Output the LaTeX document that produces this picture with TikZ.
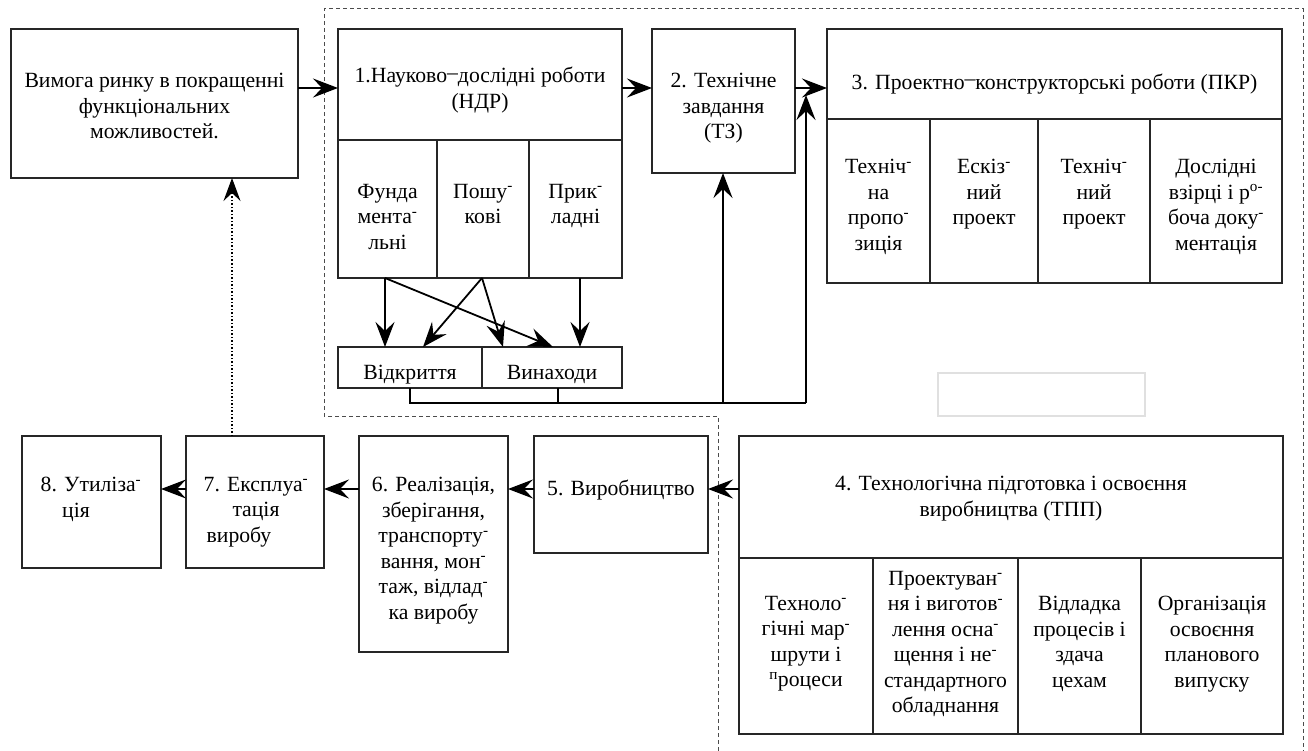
\documentclass[tikz,border=0pt]{standalone}
\usepackage{fontspec}
\setmainfont{Liberation Serif}
\usetikzlibrary{arrows.meta,calc}
\newcommand\tf{\fontsize{21.7}{25.5}\selectfont}
\newcommand\hd{\raisebox{0.17em}{–}}
\newcommand\hs{\textsuperscript{-}}
\newcommand\mkbox[6][]{\node[box,#1,anchor=north west,minimum width={#5pt-#3pt},minimum height={#6pt-#4pt}] (#2) at (#3,#4) {};}
\begin{document}
\begin{tikzpicture}[x=1pt,y=-1pt,
  box/.style={draw=black!85,line width=1.4pt,inner sep=0pt,outer sep=0pt},
  txt/.style={font=\tf,align=center,inner sep=0pt,anchor=north,execute at begin node=\strut},
  conn/.style={line width=1.8pt,black},
  arr/.style={conn,-{Stealth[length=25pt,width=19pt,inset=9pt]}},
  dotarr/.style={line width=1.3pt,dash pattern=on 1.5pt off 2pt,-{Stealth[length=23pt,width=17pt,inset=8pt]}},
  dashline/.style={line width=1pt,black!70,dash pattern=on 4pt off 3pt}]
\useasboundingbox (0,0) rectangle (1308,751);
% dashed region
\draw[dashline] (718,751) -- (718,416) -- (324,416) -- (324,9) -- (1303,9) -- (1303,751);
% boxes
\mkbox{A}{11}{29}{298}{178}
\mkbox{ndrh}{338}{29}{622}{140}
\mkbox{fund}{338}{140}{437}{278}
\mkbox{posh}{437}{140}{529}{278}
\mkbox{prik}{529}{140}{622}{278}
\mkbox{tz}{652}{29}{795}{173}
\mkbox{pkrh}{827}{29}{1282}{119}
\mkbox{pa}{827}{119}{930}{283}
\mkbox{pb}{930}{119}{1038}{283}
\mkbox{pc}{1038}{119}{1150}{283}
\mkbox{pd}{1150}{119}{1282}{283}
\mkbox{vid}{338}{347}{482}{388}
\mkbox{vyn}{482}{347}{622}{388}
\mkbox[draw=black!12]{blank}{938}{373}{1145}{416}
\mkbox{b8}{22}{436}{161}{568}
\mkbox{b7}{186}{436}{324}{568}
\mkbox{b6}{359}{436}{508}{652}
\mkbox{b5}{534}{436}{708}{553}
\mkbox{tpph}{739}{436}{1283}{558}
\mkbox{ta}{739}{558}{873}{734}
\mkbox{tb}{873}{558}{1018}{734}
\mkbox{tc}{1018}{558}{1141}{734}
\mkbox{td}{1141}{558}{1283}{734}
% texts
\node[txt] (tA) at (154.5,73) {Вимога ринку в покращенні\\функціональних\\можливостей.};
\node[txt] (tndr) at (480,67) {1.Науково\hd дослідні роботи\\(НДР)};
\node[txt] (tfund) at (387.5,184) {Фунда\\мента\hs\\льні};
\node[txt] (tposh) at (483,184) {Пошу\hs\\кові};
\node[txt] (tprik) at (575.5,184) {Прик\hs\\ладні};
\node[txt] (ttz) at (723.5,73) {2. Технічне\\завдання\\(ТЗ)};
\node[txt] (tpkr) at (1054.5,71) {3. Проектно\hd конструкторські роботи (ПКР)};
\node[txt] (tpa) at (878.5,159) {Техніч\hs\\на\\пропо\hs\\зиція};
\node[txt] (tpb) at (984,159) {Ескіз\hs\\ний\\проект};
\node[txt] (tpc) at (1094,159) {Техніч\hs\\ний\\проект};
\node[txt] (tpd) at (1216,159) {Дослідні\\взірці і р\textsuperscript{о-}\\боча доку\hs\\ментація};
\node[txt] (tvid) at (410,361) {Відкриття};
\node[txt] (tvyn) at (552,361) {Винаходи};
\node[txt] (tb8) at (91,477) {8. Утиліза\hs\\\mbox{ція\hspace{30pt}}};
\node[txt] (tb7) at (256,477) {7. Експлуа\hs\\тація\\\mbox{виробу\hspace{34pt}}};
\node[txt] (tb6) at (433.5,477) {6. Реалізація,\\зберігання,\\транспорту\hs\\вання, мон\hs\\таж, відлад\hs\\ка виробу};
\node[txt] (tb5) at (621,477) {5. Виробництво};
\node[txt] (ttpp) at (1011,476) {4. Технологічна підготовка і освоєння\\виробництва (ТПП)};
\node[txt] (tta) at (806,596) {Техноло\hs\\гічні мар\hs\\шрути і\\\textsuperscript{п}роцеси};
\node[txt] (ttb) at (945.5,571) {Проектуван\hs\\ня і виготов\hs\\лення осна\hs\\щення і не\hs\\стандартного\\обладнання};
\node[txt] (ttc) at (1079.5,596) {Відладка\\процесів і\\здача\\цехам};
\node[txt] (ttd) at (1212,596) {Організація\\освоєння\\планового\\випуску};
% connectors
\coordinate (ytop) at (0,88);
\coordinate (ybot) at (0,489);
\coordinate (bus) at (806,403);
\coordinate (bustip) at (806,95);
\coordinate (dotstart) at ([xshift=-23pt]b7.north);
\draw[arr] (A.east |- ytop) -- (ndrh.west |- ytop);
\draw[arr] (ndrh.east |- ytop) -- (tz.west |- ytop);
\draw[arr] (tz.east |- ytop) -- (pkrh.west |- ytop);
\draw[arr] ([xshift=-2.5pt]fund.south) -- ([xshift=-25pt]vid.north);
\draw[arr] ([xshift=-2.5pt]fund.south) -- ([xshift=1pt]vyn.north);
\draw[arr] ([xshift=-1pt]posh.south) -- ([xshift=13pt]vid.north);
\draw[arr] ([xshift=-1pt]posh.south) -- ([xshift=-49pt]vyn.north);
\draw[arr] ([xshift=4.5pt]prik.south) -- ([xshift=28pt]vyn.north);
\draw[conn] (vid.south) |- (bus);
\draw[conn] ([xshift=6pt]vyn.south) -- ++(0,15);
\draw[arr] (bus) -- (bustip);
\draw[arr] ([xshift=-0.5pt]tz.south |- bus) -- ([xshift=-0.5pt]tz.south);
\draw[arr] (tpph.west |- ybot) -- (b5.east |- ybot);
\draw[arr] (b5.west |- ybot) -- (b6.east |- ybot);
\draw[arr] (b6.west |- ybot) -- (b7.east |- ybot);
\draw[arr] (b7.west |- ybot) -- (b8.east |- ybot);
\draw[dotarr] (dotstart) -- (A.south -| dotstart);
\end{tikzpicture}
\end{document}
